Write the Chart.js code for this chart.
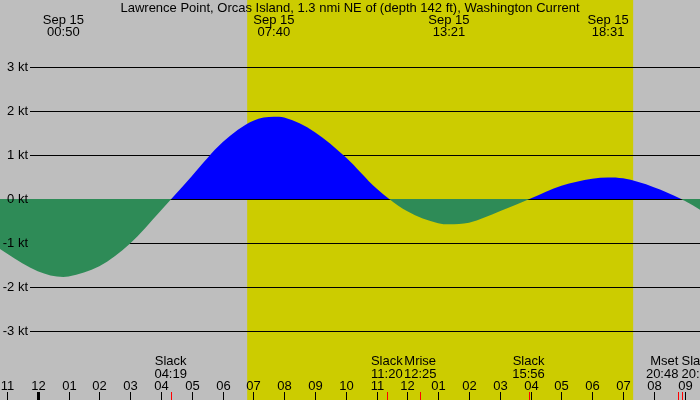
<!DOCTYPE html>
<html>
<head>
<meta charset="utf-8">
<script src="https://cdn.jsdelivr.net/npm/chart.js@4"></script>
<style>
  html, body { margin: 0; padding: 0; background: #bebebe; }
  #wrap { width: 700px; height: 400px; }
</style>
</head>
<body>
<div id="wrap"><canvas id="tide"></canvas></div>
<script>
const title = "Lawrence Point, Orcas Island, 1.3 nmi NE of (depth 142 ft), Washington Current";

// hours since midnight Sep 15, current speed in knots
const hours  = [-2, -1, 0, 0.83, 1, 2, 3, 4, 5, 6, 7, 7.67, 8, 9, 10, 11, 12, 13, 13.35, 14, 15, 16, 17, 18, 18.52, 19, 20, 21, 22];
const speeds = [-0.76, -1.24, -1.64, -1.77, -1.76, -1.53, -1.01, -0.26, 0.52, 1.29, 1.78, 1.87, 1.85, 1.52, 0.95, 0.24, -0.28, -0.55, -0.575, -0.54, -0.28, 0.01, 0.30, 0.46, 0.49, 0.47, 0.27, -0.04, -0.46];

// max / min current labels at the top
const peakTimes = ["00:50", "07:40", "13:21", "18:31"];
const peakDate = "Sep 15";

// events along the bottom
const eventNames  = ["Slack", "Slack", "Mrise", "Slack", "Mset", "Slack"];
const eventTimes  = ["04:19", "11:20", "12:25", "15:56", "20:48", "20:54"];
const eventAlign  = ["center", "center", "center", "center", "right", "left"];

// daylight
const sunrise = 6.8;
const sunset = 19.33;

const ktLevels = [3, 2, 1, 0, -1, -2, -3];
const hourTicks = [-1, 0, 1, 2, 3, 4, 5, 6, 7, 8, 9, 10, 11, 12, 13, 14, 15, 16, 17, 18, 19, 20, 21];

const FONT = '13px "Liberation Sans", Arial, sans-serif';

function toHours(t) {
  const [h, m] = t.split(":").map(Number);
  return h + m / 60;
}

function hourLabel(h) {
  const n = ((h % 12) + 12) % 12;
  return n === 0 ? "12" : String(n).padStart(2, "0");
}

const backdrop = {
  id: "backdrop",
  beforeDraw(chart) {
    const { ctx, scales: { x, y } } = chart;
    ctx.save();
    ctx.fillStyle = "#bebebe";
    ctx.fillRect(0, 0, chart.width, chart.height);
    ctx.fillStyle = "#cccc00";
    const x1 = x.getPixelForValue(sunrise), x2 = x.getPixelForValue(sunset);
    ctx.fillRect(x1, 0, x2 - x1, chart.height);

    // kt lines
    ctx.strokeStyle = "#000";
    ctx.lineWidth = 1;
    ktLevels.forEach(k => {
      const py = Math.round(y.getPixelForValue(k)) + 0.5;
      ctx.beginPath();
      ctx.moveTo(30, py);
      ctx.lineTo(chart.width, py);
      ctx.stroke();
    });
    ctx.restore();
  },
  afterDatasetsDraw(chart) {
    const { ctx, scales: { x, y } } = chart;
    ctx.save();
    ctx.font = FONT;
    ctx.fillStyle = "#000";
    ctx.textBaseline = "middle";

    ctx.textAlign = "right";
    ktLevels.forEach(k => {
      ctx.fillText(k + " kt", 28, Math.round(y.getPixelForValue(k)) + 0.5);
    });

    ctx.textAlign = "center";
    ctx.fillText(title, chart.width / 2, 8);

    peakTimes.forEach(t => {
      const px = x.getPixelForValue(toHours(t));
      ctx.fillText(peakDate, px, 20);
      ctx.fillText(t, px, 32);
    });

    // hour ticks
    hourTicks.forEach(h => {
      const px = Math.round(x.getPixelForValue(h));
      ctx.fillStyle = "#000";
      ctx.textAlign = "center";
      ctx.fillText(hourLabel(h), px + 0.5, 386);
      ctx.fillRect(h === 0 ? px - 1 : px, 392, h === 0 ? 3 : 1, 8);
    });

    // events
    eventNames.forEach((name, i) => {
      const px = x.getPixelForValue(toHours(eventTimes[i]));
      ctx.fillStyle = "#000";
      ctx.textAlign = eventAlign[i];
      ctx.fillText(name, px, 361);
      ctx.fillText(eventTimes[i], px, 374);
      ctx.fillStyle = "#ff0000";
      ctx.fillRect(Math.round(px), 392, 1, 8);
    });
    ctx.restore();
  }
};

new Chart(document.getElementById("tide"), {
  type: "line",
  data: {
    datasets: [{
      data: hours.map((h, i) => ({ x: h, y: speeds[i] })),
      borderWidth: 0,
      borderColor: "rgba(0,0,0,0)",
      pointRadius: 0,
      cubicInterpolationMode: "monotone",
      fill: { target: "origin", above: "#0000ff", below: "#2e8b57" }
    }]
  },
  options: {
    responsive: true,
    maintainAspectRatio: false,
    animation: false,
    layout: { padding: 0 },
    plugins: { legend: { display: false }, tooltip: { enabled: false }, title: { display: false } },
    scales: {
      x: { type: "linear", min: -1.224, max: 21.5, display: false },
      y: { min: -4.568, max: 4.523, display: false }
    }
  },
  plugins: [backdrop]
});
</script>
</body>
</html>
